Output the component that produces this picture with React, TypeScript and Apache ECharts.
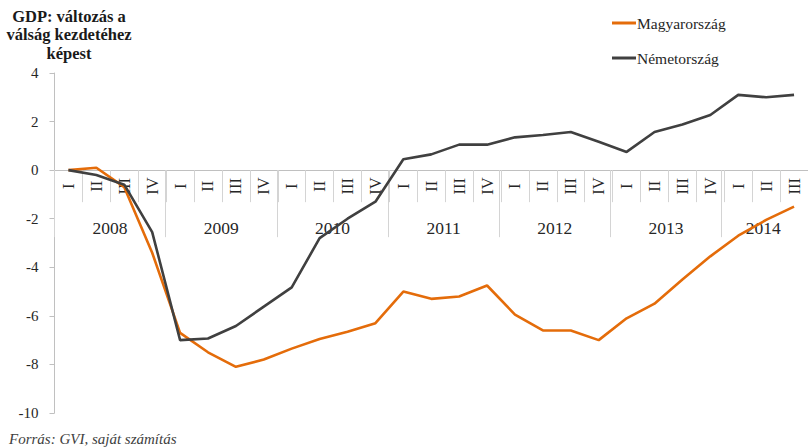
import React, { useEffect, useRef } from "react";
import * as echarts from "echarts";

const quarters = [
  "I", "II", "III", "IV",
  "I", "II", "III", "IV",
  "I", "II", "III", "IV",
  "I", "II", "III", "IV",
  "I", "II", "III", "IV",
  "I", "II", "III", "IV",
  "I", "II", "III",
];
const years = ["2008", "2009", "2010", "2011", "2012", "2013", "2014"];
const quartersPerYear = [4, 4, 4, 4, 4, 4, 3];

const hungary = [
  0, 0.1, -0.7, -3.4,
  -6.7, -7.5, -8.1, -7.8,
  -7.35, -6.95, -6.65, -6.3,
  -5.0, -5.3, -5.2, -4.75,
  -5.95, -6.6, -6.6, -7.0,
  -6.1, -5.5, -4.5, -3.55,
  -2.7, -2.05, -1.5,
];
const germany = [
  0, -0.2, -0.6, -2.55,
  -7.0, -6.93, -6.42, -5.62,
  -4.83, -2.8, -2.0, -1.3,
  0.45, 0.65, 1.05, 1.05,
  1.35, 1.45, 1.57, 1.17,
  0.75, 1.57, 1.88, 2.27,
  3.1, 3.0, 3.1,
];
const yTicks = { min: -10, max: 4, interval: 2 };

const FONT = "'Liberation Serif', 'DejaVu Serif', serif";

// half-quarter boundary axis for year labels (boundaryGap false)
const halfSlots: string[] = new Array(quarters.length * 2 + 1).fill("");
const yearBoundaries: number[] = [];
{
  let start = 0;
  years.forEach((y, i) => {
    halfSlots[2 * start + quartersPerYear[i]] = y;
    yearBoundaries.push(2 * start);
    start += quartersPerYear[i];
  });
}

export default function App() {
  const ref = useRef<HTMLDivElement>(null);
  useEffect(() => {
    if (!ref.current) return;
    const chart = echarts.init(ref.current, null, { renderer: "svg" });
    const H = 448;
    const left = 54.5;
    const right = -6.5;
    const top = 73;
    const bottom = 35;
    const plotH = H - top - bottom;
    const zeroY = top + (plotH * yTicks.max) / (yTicks.max - yTicks.min);
    const axisGrid = { left, right, top, bottom: H - zeroY, containLabel: false };
    chart.setOption({
      animation: false,
      backgroundColor: "#ffffff",
      textStyle: { fontFamily: FONT },
      graphic: [
        {
          type: "text",
          x: 69,
          y: 7,
          style: {
            text: "GDP: változás a\nválság kezdetéhez\nképest",
            font: `bold 16.5px ${FONT}`,
            fill: "#1a1a1a",
            textAlign: "center",
            lineHeight: 18.5,
          },
        },
        {
          type: "text",
          x: 9,
          y: 431,
          style: {
            text: "Forrás: GVI, saját számítás",
            font: `italic 15px ${FONT}`,
            fill: "#404040",
          },
        },
      ],
      legend: {
        data: ["Magyarország", "Németország"],
        orient: "vertical",
        left: 607,
        top: 10,
        icon: "rect",
        itemWidth: 24,
        itemHeight: 3,
        itemGap: 19,
        textStyle: { fontSize: 15.5, color: "#262626", fontFamily: FONT, padding: [0, 0, 0, -4] },
      },
      grid: [
        { left, right, top, bottom, containLabel: false },
        axisGrid,
        axisGrid,
      ],
      xAxis: [
        {
          type: "category",
          gridIndex: 0,
          data: quarters,
          boundaryGap: true,
          show: false,
        },
        {
          type: "category",
          gridIndex: 1,
          data: quarters,
          boundaryGap: true,
          position: "bottom",
          axisLine: { onZero: false, lineStyle: { color: "#c0c0c0", width: 1 } },
          axisTick: { show: true, interval: 0, length: 32, lineStyle: { color: "#d4d4d4" } },
          axisLabel: {
            interval: 0,
            rotate: 90,
            align: "center",
            verticalAlign: "middle",
            margin: 16,
            fontSize: 16.5,
            color: "#262626",
            fontFamily: FONT,
          },
          splitLine: { show: false },
        },
        {
          type: "category",
          gridIndex: 2,
          data: halfSlots,
          boundaryGap: false,
          position: "bottom",
          axisLine: { onZero: false, lineStyle: { color: "#c0c0c0", width: 1 } },
          axisTick: {
            show: true,
            interval: (i: number) => yearBoundaries.includes(i),
            length: 67,
            lineStyle: { color: "#d4d4d4" },
          },
          axisLabel: {
            interval: 0,
            margin: 58,
            verticalAlign: "middle",
            fontSize: 17.5,
            color: "#262626",
            fontFamily: FONT,
          },
          splitLine: { show: false },
        },
      ],
      yAxis: [
        {
          type: "value",
          gridIndex: 0,
          ...yTicks,
          axisLine: { show: true, onZero: false, lineStyle: { color: "#c0c0c0" } },
          axisTick: { show: true, length: 5, lineStyle: { color: "#c0c0c0" } },
          axisLabel: { margin: 16, fontSize: 15, color: "#262626", fontFamily: FONT },
          splitLine: { show: false },
        },
        {
          type: "value",
          gridIndex: 1,
          min: 0,
          max: yTicks.max,
          show: false,
          splitLine: { show: false },
        },
        {
          type: "value",
          gridIndex: 2,
          min: 0,
          max: yTicks.max,
          show: false,
          splitLine: { show: false },
        },
      ],
      series: [
        {
          name: "Magyarország",
          type: "line",
          xAxisIndex: 0,
          yAxisIndex: 0,
          data: hungary,
          symbol: "none",
          lineStyle: { color: "#E46C0A", width: 2.6 },
          itemStyle: { color: "#E46C0A" },
          z: 3,
        },
        {
          name: "Németország",
          type: "line",
          xAxisIndex: 0,
          yAxisIndex: 0,
          data: germany,
          symbol: "none",
          lineStyle: { color: "#404040", width: 2.6 },
          itemStyle: { color: "#404040" },
          z: 4,
        },
      ],
    });
    return () => chart.dispose();
  }, []);
  return (
    <div
      ref={ref}
      style={{ position: "absolute", left: 0, top: 0, width: 808, height: 448 }}
    />
  );
}
